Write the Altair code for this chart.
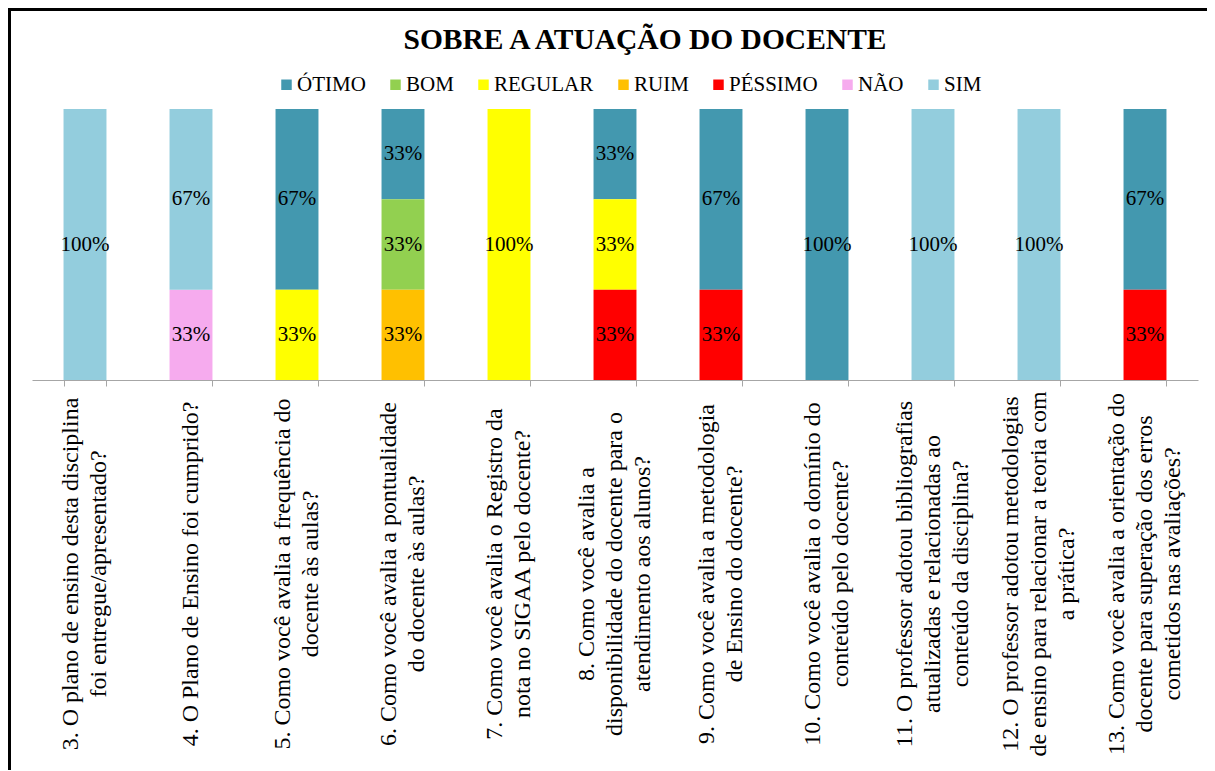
import altair as alt
import pandas as pd

questions = [
    "3. O plano de ensino desta disciplina|foi entregue/apresentado?",
    "4.  O Plano de Ensino foi cumprido?",
    "5. Como você avalia a frequência do|docente às aulas?",
    "6. Como você avalia a pontualidade|do docente às aulas?",
    "7. Como você avalia o Registro da|nota no SIGAA pelo docente?",
    "8. Como você avalia a|disponibilidade do docente para o|atendimento aos alunos?",
    "9. Como você avalia a metodologia|de Ensino do docente?",
    "10. Como você avalia o domínio do|conteúdo pelo docente?",
    "11. O professor adotou bibliografias|atualizadas e relacionadas ao|conteúdo da disciplina?",
    "12. O professor adotou metodologias|de ensino para relacionar a teoria com|a prática?",
    "13. Como você avalia a orientação do|docente para superação dos erros|cometidos nas avaliações?",
]

categories = ["ÓTIMO", "BOM", "REGULAR", "RUIM", "PÉSSIMO", "NÃO", "SIM"]
colors = ["#4398AF", "#92D050", "#FFFF00", "#FFC000", "#FF0000", "#F6ABEE", "#93CDDD"]
# stacking order, bottom -> top
stack_rank = {"PÉSSIMO": 0, "NÃO": 1, "RUIM": 2, "REGULAR": 3, "BOM": 4, "ÓTIMO": 5, "SIM": 6}

otimo   = [0, 0, 66.67, 33.33, 0, 33.33, 66.67, 100, 0, 0, 66.67]
bom     = [0, 0, 0, 33.33, 0, 0, 0, 0, 0, 0, 0]
regular = [0, 0, 33.33, 0, 100, 33.33, 0, 0, 0, 0, 0]
ruim    = [0, 0, 0, 33.33, 0, 0, 0, 0, 0, 0, 0]
pessimo = [0, 0, 0, 0, 0, 33.33, 33.33, 0, 0, 0, 33.33]
nao     = [0, 33.33, 0, 0, 0, 0, 0, 0, 0, 0, 0]
sim     = [100, 66.67, 0, 0, 0, 0, 0, 0, 100, 100, 0]

series = dict(zip(categories, [otimo, bom, regular, ruim, pessimo, nao, sim]))

rows = []
for cat, vals in series.items():
    for q, v in zip(questions, vals):
        if v > 0:
            rows.append({"q": q, "cat": cat, "value": v, "rank": stack_rank[cat]})
df = pd.DataFrame(rows)

qdf = pd.DataFrame({"q": questions, "n": [len(q.split("|")) for q in questions]})

FONT = "Liberation Serif"
W, H = 1166, 271
LH = 28

base = alt.Chart(df).transform_stack(
    stack="value", groupby=["q"], as_=["y0", "y1"], sort=[alt.SortField("rank", order="ascending")]
).transform_calculate(
    mid="(datum.y0 + datum.y1) / 2",
    lbl="format(datum.value, '.0f') + '%'",
)

xscale = alt.Scale(paddingInner=0.595, paddingOuter=0.2975)
xenc = alt.X(
    "q:N",
    sort=questions,
    title=None,
    scale=xscale,
    axis=alt.Axis(
        labels=False,
        tickBand="extent",
        tickSize=6,
        tickColor="#A6A6A6",
        domainColor="#A6A6A6",
    ),
)

yscale = alt.Scale(domain=[0, 100], nice=False)

bars = base.mark_bar().encode(
    x=xenc,
    y=alt.Y("y0:Q", scale=yscale, axis=None),
    y2="y1:Q",
    color=alt.Color(
        "cat:N",
        scale=alt.Scale(domain=categories, range=colors),
        legend=alt.Legend(
            title=None,
            orient="none",
            direction="horizontal",
            legendX=244,
            legendY=-35,
            symbolType="square",
            symbolSize=110,
            symbolStrokeWidth=0,
            labelFont=FONT,
            labelFontSize=21,
            labelColor="black",
            labelOffset=0,
            columnPadding=19,
            columns=7,
        ),
    ),
)

texts = base.mark_text(font=FONT, fontSize=21, color="black").encode(
    x=alt.X("q:N", sort=questions),
    y=alt.Y("mid:Q", scale=yscale),
    text="lbl:N",
)

qlabels = alt.Chart(qdf).mark_text(
    font=FONT,
    fontSize=24,
    color="black",
    angle=270,
    align="center",
    baseline="middle",
    lineBreak="|",
    lineHeight=LH,
    dy=alt.ExprRef(f"-(datum.n - 1) * {LH / 2}"),
).encode(
    x=alt.X("q:N", sort=questions),
    y=alt.value(H + 194),
    text="q:N",
)

frame_left = alt.Chart(df).mark_rule(color="black", strokeWidth=2.5).encode(
    x=alt.value(-22.5), y=alt.value(-99.5), y2=alt.value(H + 400)
)
frame_top = alt.Chart(df).mark_rule(color="black", strokeWidth=2.5).encode(
    x=alt.value(-23.5), x2=alt.value(W + 40), y=alt.value(-99.5)
)

chart = alt.layer(bars, texts, qlabels, frame_left, frame_top).properties(
    width=W,
    height=H,
    autosize=alt.AutoSizeParams(type="none"),
    padding={"left": 24, "top": 101, "right": 9, "bottom": 390},
    title=alt.TitleParams(
        "SOBRE A ATUAÇÃO DO DOCENTE",
        font=FONT,
        fontSize=29.5,
        fontWeight="bold",
        color="black",
        anchor="middle",
        dx=30,
        dy=51,
    ),
).configure(
    background="white", font=FONT
).configure_view(stroke=None).configure_legend(labelFont=FONT)

chart.save("out.html", embed_options={"renderer": "svg", "actions": False})
